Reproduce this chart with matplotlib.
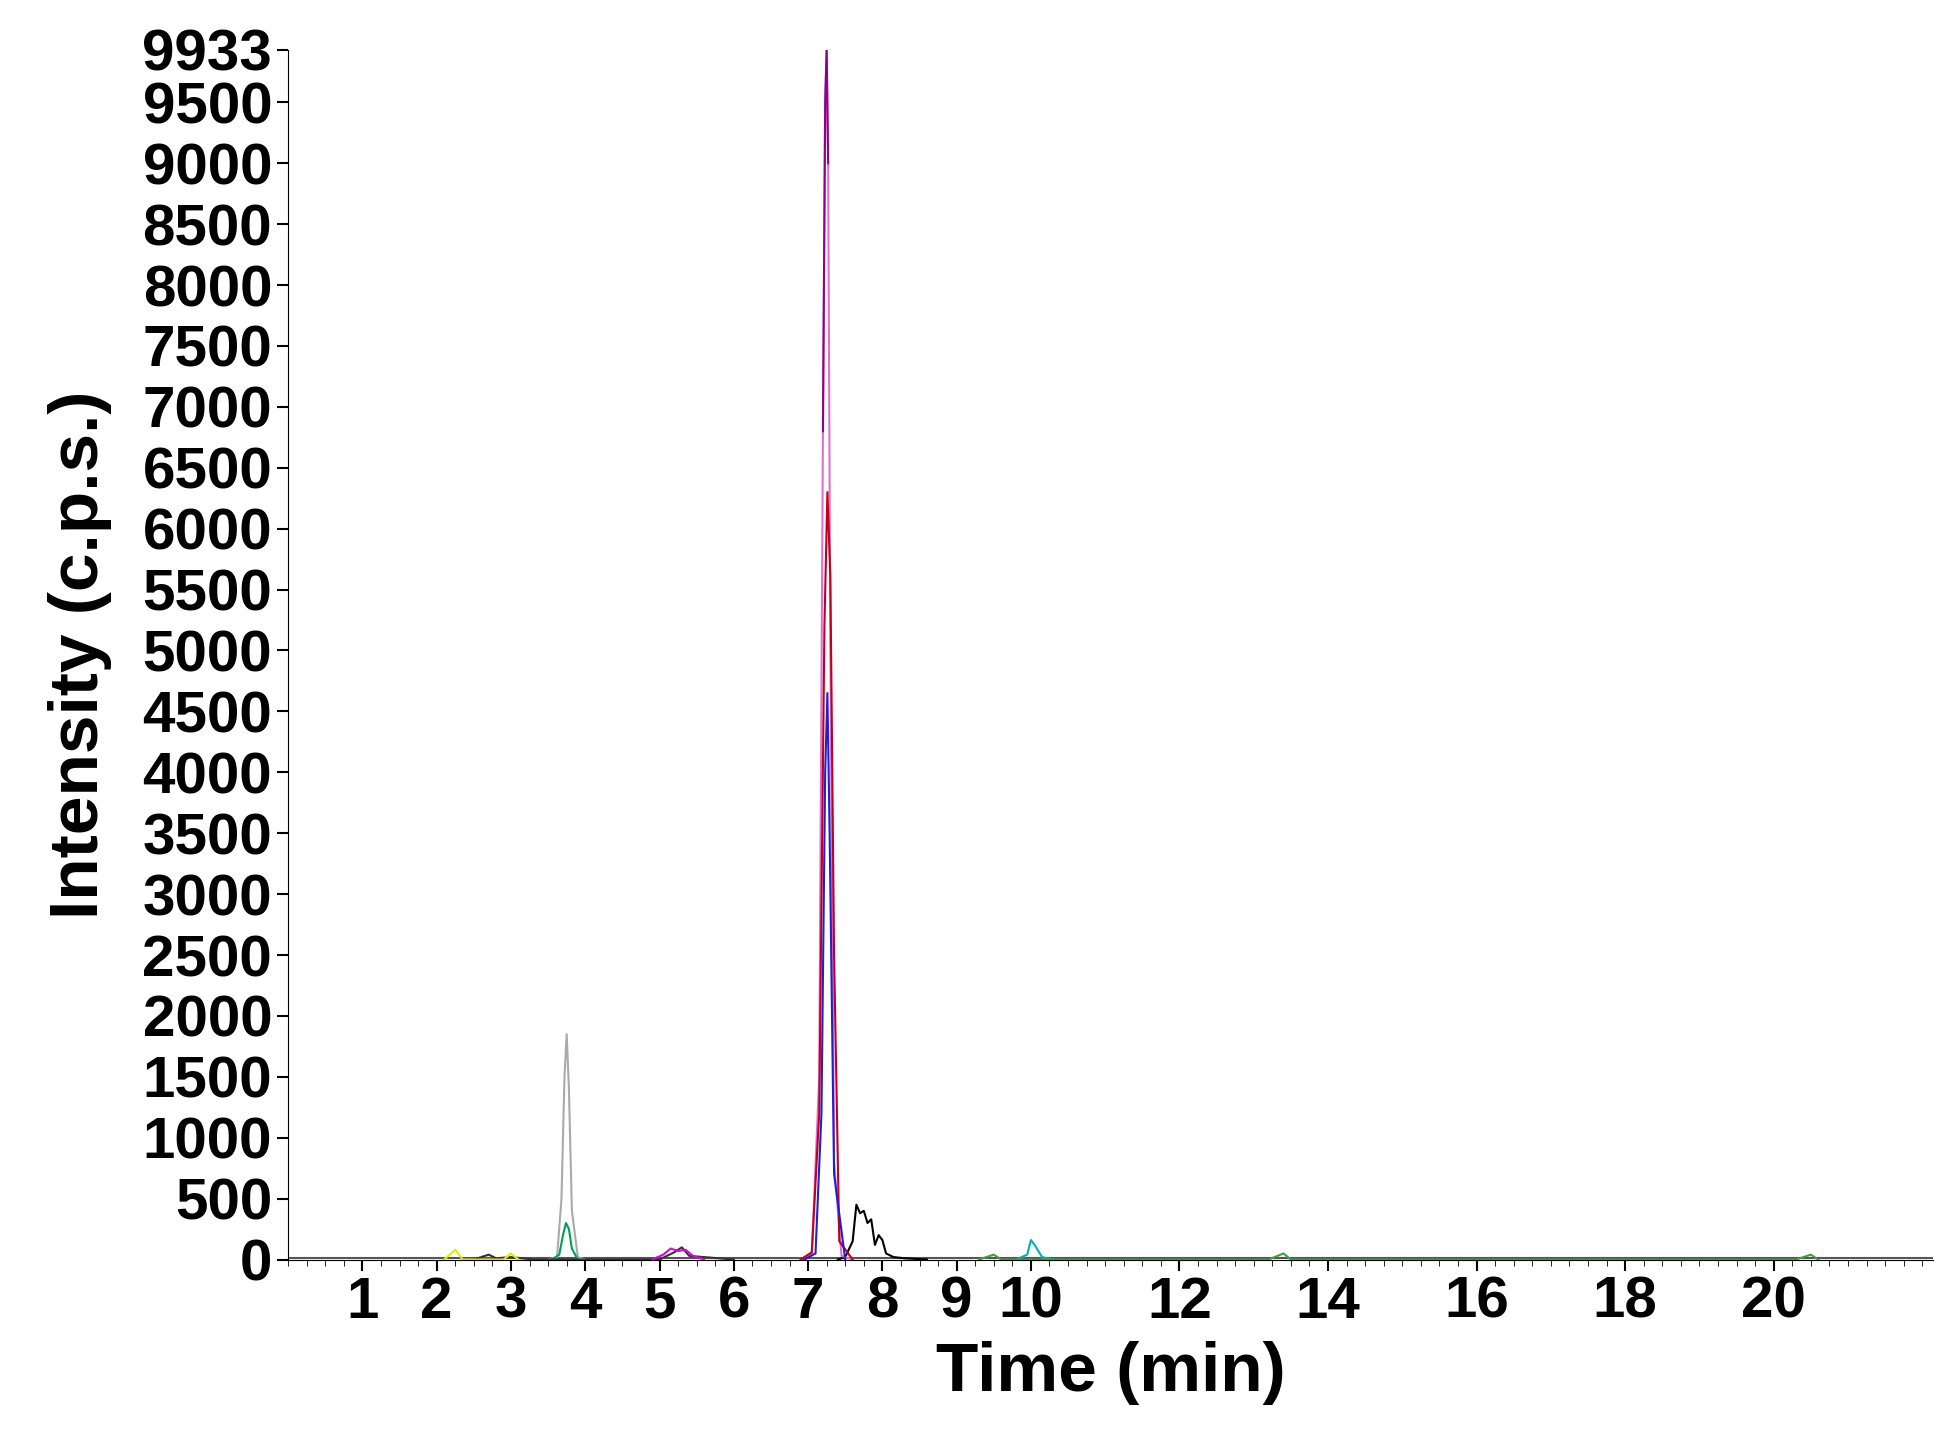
import matplotlib
matplotlib.use("Agg")
import matplotlib.pyplot as plt
import numpy as np

plt.rcParams['font.family'] = ['Liberation Sans', 'DejaVu Sans']

# traces: (color, times, intensities)
pink_t = [6.9, 7.05, 7.15, 7.20, 7.23, 7.25, 7.27, 7.30, 7.35, 7.45, 7.6]
pink_y = [0, 40, 1500, 6800, 9500, 9933, 9000, 5000, 800, 30, 0]
red_t = [6.9, 7.05, 7.15, 7.22, 7.26, 7.30, 7.35, 7.42, 7.6]
red_y = [0, 60, 1200, 5200, 6300, 5600, 2500, 150, 0]
blue_t = [6.95, 7.1, 7.18, 7.23, 7.26, 7.29, 7.35, 7.5]
blue_y = [0, 50, 1200, 4000, 4650, 3500, 700, 0]
grey_t = [3.5, 3.62, 3.68, 3.72, 3.75, 3.78, 3.82, 3.9, 4.0]
grey_y = [0, 20, 500, 1500, 1850, 1400, 400, 20, 0]
green_t = [3.55, 3.65, 3.70, 3.74, 3.78, 3.82, 3.9]
green_y = [0, 40, 200, 300, 250, 90, 0]
black_t = [7.4, 7.5, 7.6, 7.65, 7.7, 7.75, 7.8, 7.85, 7.9, 7.95, 8.0, 8.05, 8.15, 8.3, 8.6]
black_y = [0, 20, 150, 450, 380, 400, 300, 330, 120, 200, 160, 50, 20, 10, 0]
black2_t = [2.5, 2.7, 2.8, 3.0, 3.3, 5.0, 5.2, 5.3, 5.4, 6.0]
black2_y = [0, 40, 10, 20, 0, 0, 60, 100, 30, 0]
magenta_t = [4.9, 5.05, 5.15, 5.25, 5.35, 5.45, 5.6]
magenta_y = [0, 40, 90, 70, 80, 30, 0]
cyan_t = [9.8, 9.95, 10.0, 10.05, 10.15, 10.3]
cyan_y = [0, 40, 160, 120, 20, 0]
yellow_t = [2.1, 2.25, 2.35, 2.9, 3.0, 3.1]
yellow_y = [0, 80, 0, 0, 50, 0]
olive_t = [9.3, 9.5, 9.6, 13.2, 13.4, 13.5, 20.3, 20.5, 20.6]
olive_y = [0, 40, 0, 0, 50, 0, 0, 40, 0]
baseline_t = [0, 22.2]
baseline_y = [15, 15]

xticks = [1, 2, 3, 4, 5, 6, 7, 8, 9, 10, 12, 14, 16, 18, 20]
yticks = [0, 500, 1000, 1500, 2000, 2500, 3000, 3500, 4000, 4500, 5000,
          5500, 6000, 6500, 7000, 7500, 8000, 8500, 9000, 9500, 9933]

fig = plt.figure(figsize=(19.47, 14.37), dpi=100)
ax = fig.add_axes([0.148, 0.1235, 0.845, 0.842])

ax.plot(baseline_t, baseline_y, color='#555555', lw=1.5)
series = [(grey_t, grey_y, '#aaaaaa'), (green_t, green_y, '#00a050'),
          (black_t, black_y, 'black'), (black2_t, black2_y, '#333333'),
          (magenta_t, magenta_y, '#e000e0'), (cyan_t, cyan_y, '#00b0c0'),
          (yellow_t, yellow_y, '#e8e800'), (olive_t, olive_y, '#40a040'),
          (pink_t, pink_y, '#e070d0'), (red_t, red_y, '#c00020'),
          (blue_t, blue_y, '#2020d0')]
for t, y, c in series:
    ax.plot(t, y, color=c, lw=1.5)
ax.plot(pink_t[3:7], pink_y[3:7], color='#900090', lw=1.5)

ax.set_xlim(0, 22.15)
ax.set_ylim(0, 9933)
ax.set_xticks(xticks)
ax.set_xticks(np.arange(0, 22.2, 0.25), minor=True)
ax.set_yticks(yticks)
ax.tick_params(axis='both', labelsize=42, width=1.5, length=8)
ax.tick_params(axis='x', which='minor', length=4)
for lab in ax.get_xticklabels() + ax.get_yticklabels():
    lab.set_fontweight('bold')
ax.spines['top'].set_visible(False)
ax.spines['right'].set_visible(False)
ax.set_xlabel('Time (min)', fontsize=50, fontweight='bold', labelpad=8)
ax.set_ylabel('Intensity (c.p.s.)', fontsize=50, fontweight='bold', labelpad=22)
fig.savefig('out.png', dpi=100)
